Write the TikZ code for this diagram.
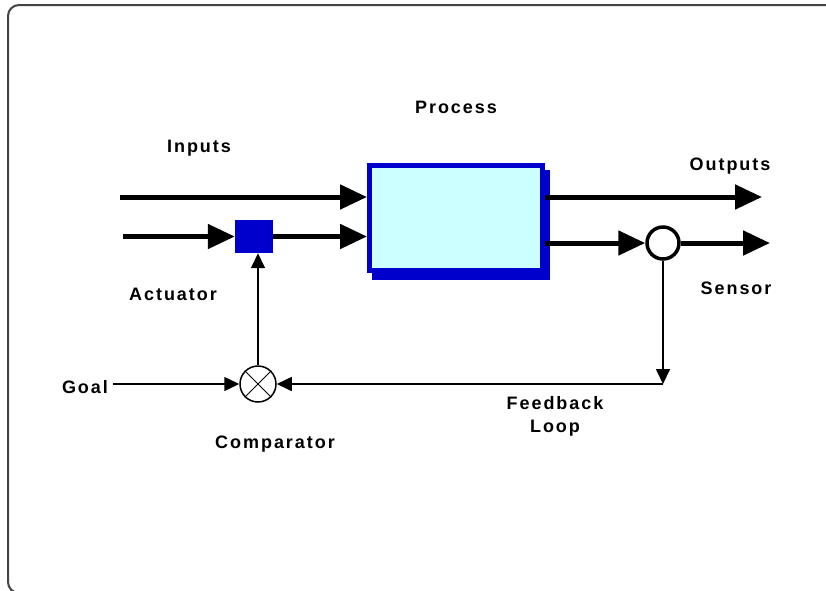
\documentclass[tikz,border=0pt]{standalone}
\usepackage{fontspec}
\setmainfont{Liberation Sans}[LetterSpace=11]
\usetikzlibrary{arrows.meta}
\definecolor{boxblue}{HTML}{0000CC}
\definecolor{boxfill}{HTML}{CCFFFF}
\definecolor{framegray}{HTML}{444444}
\begin{document}
\begin{tikzpicture}[x=1pt,y=-1pt,
  lbl/.style={font=\fontsize{18}{23}\selectfont\bfseries, inner sep=0pt, anchor=base},
  bigarrow/.style={line width=5pt, -{Triangle[length=27pt,width=24pt]}},
  smallarrow/.style={line width=1.6pt, -{Triangle[length=15pt,width=14pt]}},
  procbox/.style={draw=boxblue, line width=5pt, fill=boxfill, minimum width=173pt, minimum height=105pt, inner sep=0pt},
  actbox/.style={fill=boxblue, minimum width=38pt, minimum height=33pt, inner sep=0pt},
  sensorring/.style={circle, draw, line width=3.5pt, minimum size=32pt, inner sep=0pt, fill=white},
  compring/.style={circle, draw, line width=1.5pt, minimum size=36pt, inner sep=0pt, fill=white}
]
\clip (0,0) rectangle (826,590);
\useasboundingbox (0,0) rectangle (826,590);
\fill[white] (0,0) rectangle (826,590);
% frame
\draw[line width=2pt, draw=framegray, rounded corners=11pt] (8,5) rectangle (838,593);

% process box with shadow
\fill[boxblue] (372,170) rectangle (550,280);
\node[procbox] (process) at (456,218) {};

% actuator, sensor, comparator
\node[actbox] (act) at (254,236.5) {};
\node[sensorring] (sensor) at (663,243) {};
\node[compring] (comp) at (258,384) {};
\draw[line width=1pt] (comp.45) -- (comp.225) (comp.135) -- (comp.315);

% free ends
\coordinate (in1) at (120,197);
\coordinate (in2) at (123,236.5);
\coordinate (out1) at (762,197);
\coordinate (out2) at (770,243);
\coordinate (fb) at (663,384);

% labels
\node[lbl] (inputs) at (199,152) {Inputs};
\node[lbl] (proclbl) at (456,113) {Process};
\node[lbl] (actlbl) at (173,300) {Actuator};
\node[lbl] (outlbl) at (730,170) {Outputs};
\node[lbl] (senslbl) at (736,294) {Sensor};
\node[lbl, inner xsep=5pt] (goal) at (85,393) {Goal};
\node[lbl] (comptxt) at (275,448) {Comparator};
\node[lbl, align=center, anchor=north] (fblbl) at (555,396) {Feedback\\Loop};

% connectors
\draw[bigarrow] (in1) -- (in1 -| process.west);
\draw[bigarrow] (in2) -- (act.west);
\draw[bigarrow] (act.east) -- (act.east -| process.west);
\draw[bigarrow] (process.east |- out1) -- (out1);
\draw[bigarrow] (process.east |- sensor) -- (sensor.west);
\draw[bigarrow] (sensor.east) -- (out2);
\draw[smallarrow] (sensor.south) -- (fb);
\draw[smallarrow] (fb) -- (comp.east);
\draw[smallarrow] (goal.east |- comp.west) -- (comp.west);
\draw[smallarrow] (comp.north) -- (comp.north |- act.south);
\end{tikzpicture}
\end{document}
